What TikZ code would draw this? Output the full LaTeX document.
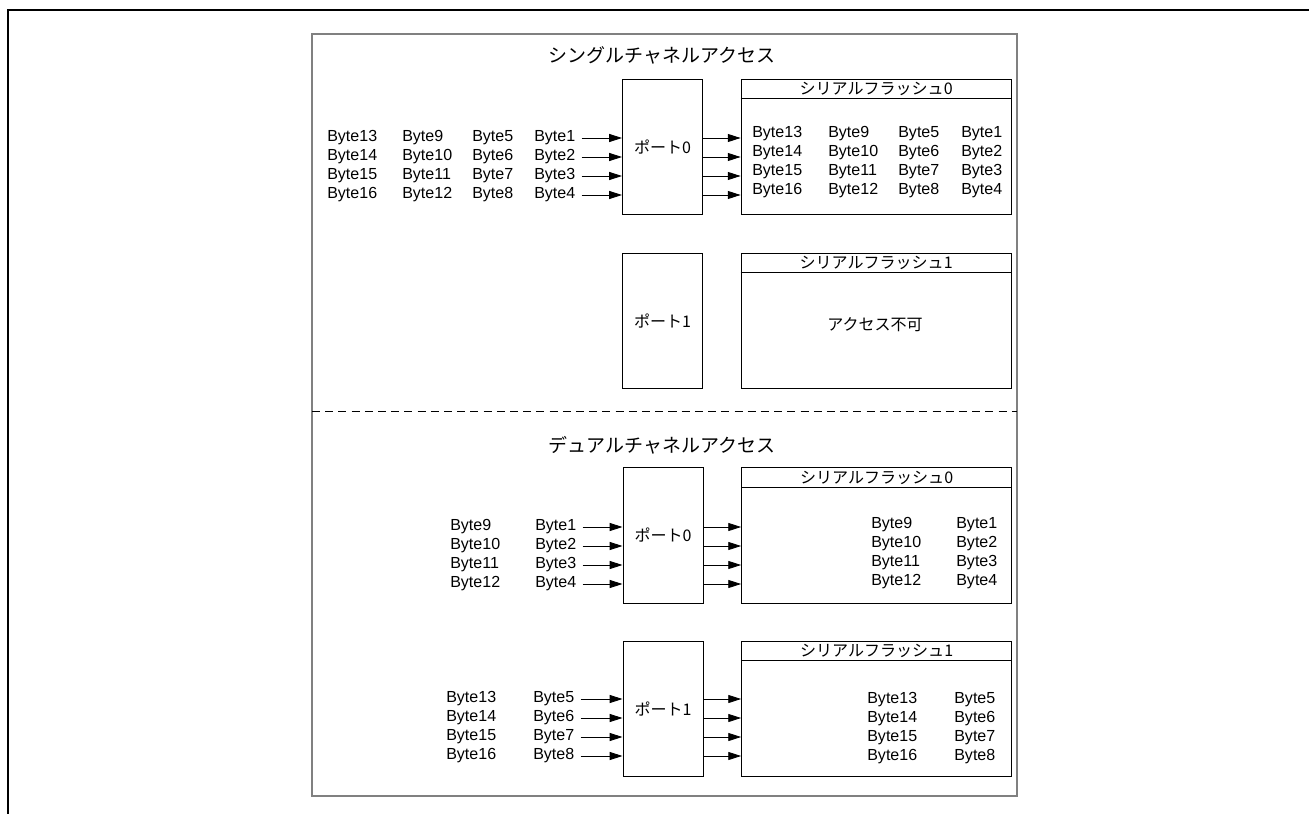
\documentclass[tikz,border=0pt]{standalone}
\usepackage{fontspec}
\setmainfont{Liberation Sans}
\newfontfamily\jp{Noto Sans CJK JP}
\usetikzlibrary{arrows.meta,positioning}
\definecolor{framegray}{HTML}{808080}
\tikzset{
  byte/.style={anchor=west,inner sep=0pt,font=\fontsize{11.4pt}{13pt}\selectfont},
  jptxt/.style={inner sep=0pt,font=\jp\fontsize{11.4pt}{13pt}\selectfont},
  port/.style={draw,line width=0.7pt,minimum width=2cm,minimum height=3.375cm,inner sep=0pt,jptxt},
  flash/.style={draw,line width=0.7pt,minimum width=6.75cm,minimum height=3.375cm,inner sep=0pt},
  arr/.style={line width=0.6pt,-{Triangle[length=3.2mm,width=2mm]}},
  ttl/.style={font=\jp\fontsize{13.5pt}{16pt}\selectfont},
}

\begin{document}
\begin{tikzpicture}[x=0.025cm,y=-0.025cm]
\useasboundingbox (0,0) rectangle (1309,814);
\draw[line width=1.1pt] (8,814)--(8,10)--(1309,10);
\draw[framegray,line width=0.9pt] (312,34) rectangle (1017,796);
\draw[line width=0.6pt,dash pattern=on 2mm off 1.3mm] (312,411)--(1017,411);

\node[ttl] (t1) at (662,55){シングルチャネルアクセス};
\node[ttl] (t2) at (662,445){デュアルチャネルアクセス};

\node[port] (pa) at (662.5,147){ポート0};
\node[flash,right=0.94cm of pa] (fa){};
\node[port] (pb) at (662.5,321){ポート1};
\node[flash,right=0.94cm of pb] (fb){};
\node[jptxt] (na) at (875,325){アクセス不可};
\node[port] (pc) at (663,535.5){ポート0};
\node[flash,right=0.94cm of pc] (fc){};
\node[port] (pd) at (663,709){ポート1};
\node[flash,right=0.94cm of pd] (fd){};

\foreach \f/\k in {fa/0,fb/1,fc/0,fd/1}{
  \draw[line width=0.7pt] ([yshift=-0.49cm]\f.north west)--([yshift=-0.49cm]\f.north east);
  \node[jptxt] (\f-hd) at ([yshift=-0.25cm]\f.north){シリアルフラッシュ\k};
}

\foreach \cx/\base in {327/13,402/9,472/5,534/1}
  \foreach \r in {1,...,4}{
    \pgfmathtruncatemacro\n{\base+\r-1}
    \node[byte] (sa-\n) at (\cx,{119+19*\r}){Byte\n};
  }
\foreach \cx/\base in {752/13,828/9,898/5,961/1}
  \foreach \r in {1,...,4}{
    \pgfmathtruncatemacro\n{\base+\r-1}
    \node[byte] (ga-\n) at (\cx,{115+19*\r}){Byte\n};
  }
\foreach \cx/\base in {450/9,535/1}
  \foreach \r in {1,...,4}{
    \pgfmathtruncatemacro\n{\base+\r-1}
    \node[byte] (sc-\n) at (\cx,{508+19*\r}){Byte\n};
  }
\foreach \cx/\base in {871/9,956/1}
  \foreach \r in {1,...,4}{
    \pgfmathtruncatemacro\n{\base+\r-1}
    \node[byte] (gc-\n) at (\cx,{506+19*\r}){Byte\n};
  }
\foreach \cx/\base in {446/13,533/5}
  \foreach \r in {1,...,4}{
    \pgfmathtruncatemacro\n{\base+\r-1}
    \node[byte] (sd-\n) at (\cx,{680+19*\r}){Byte\n};
  }
\foreach \cx/\base in {867/13,954/5}
  \foreach \r in {1,...,4}{
    \pgfmathtruncatemacro\n{\base+\r-1}
    \node[byte] (gd-\n) at (\cx,{681+19*\r}){Byte\n};
  }

\foreach \n in {1,...,4}{
  \draw[arr,shorten <=0.15cm] (sa-\n.east)--(sa-\n.east -| pa.west);
  \draw[arr] (pa.east |- sa-\n)--(fa.west |- sa-\n);
  \draw[arr,shorten <=0.15cm] (sc-\n.east)--(sc-\n.east -| pc.west);
  \draw[arr] (pc.east |- sc-\n)--(fc.west |- sc-\n);
}
\foreach \n in {5,...,8}{
  \draw[arr,shorten <=0.15cm] (sd-\n.east)--(sd-\n.east -| pd.west);
  \draw[arr] (pd.east |- sd-\n)--(fd.west |- sd-\n);
}
\end{tikzpicture}
\end{document}
